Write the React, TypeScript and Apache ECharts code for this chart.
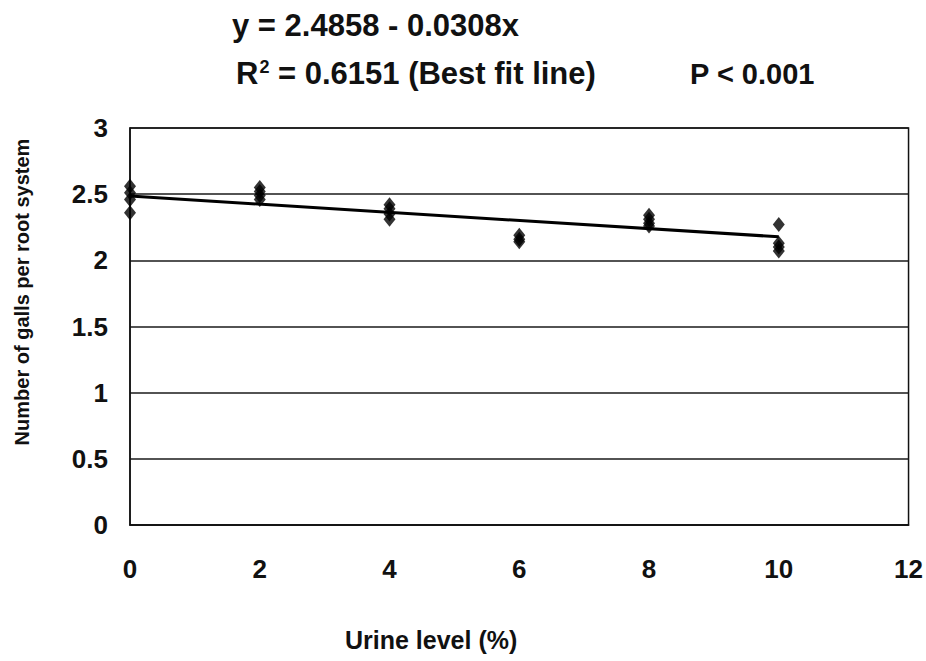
import React, { useEffect, useRef } from "react";
import * as echarts from "echarts";

const urineLevels = [0, 2, 4, 6, 8, 10];
const gallsAt0 = [2.56, 2.51, 2.46, 2.36];
const gallsAt2 = [2.55, 2.52, 2.49, 2.46];
const gallsAt4 = [2.42, 2.39, 2.35, 2.31];
const gallsAt6 = [2.19, 2.16, 2.14];
const gallsAt8 = [2.34, 2.31, 2.28, 2.26];
const gallsAt10 = [2.27, 2.13, 2.1, 2.07];
const fitLineX = [0, 10];
const fitLineY = [2.4858, 2.1778];
const yTicks = ["0", "0.5", "1", "1.5", "2", "2.5", "3"];

const FONT = "'Liberation Sans', Arial, sans-serif";

export default function App() {
  const ref = useRef<HTMLDivElement>(null);
  useEffect(() => {
    document.body.style.margin = "0";
    document.body.style.overflow = "hidden";
    if (!ref.current) return;
    const chart = echarts.init(ref.current, null, { renderer: "svg" });
    const groups = [gallsAt0, gallsAt2, gallsAt4, gallsAt6, gallsAt8, gallsAt10];
    const scatterData: number[][] = [];
    groups.forEach((g, i) => g.forEach((v) => scatterData.push([urineLevels[i], v])));
    chart.setOption({
      animation: false,
      backgroundColor: "#ffffff",
      textStyle: { fontFamily: FONT },
      grid: {
        left: 130,
        right: 16,
        top: 128,
        bottom: 136,
        show: true,
        borderColor: "#111",
        borderWidth: 1.5,
      },
      xAxis: {
        type: "value",
        min: 0,
        max: 12,
        interval: 2,
        axisLine: { show: true, onZero: false, lineStyle: { color: "#111", width: 1.5 } },
        axisTick: { show: false },
        splitLine: { show: false },
        axisLabel: {
          fontSize: 26,
          fontWeight: "bold",
          color: "#111",
          margin: 31,
          fontFamily: FONT,
        },
      },
      yAxis: {
        type: "value",
        min: 0,
        max: 3,
        interval: 0.5,
        axisLine: { show: true, lineStyle: { color: "#111", width: 1.5 } },
        axisTick: { show: false },
        splitLine: { show: true, lineStyle: { color: "#1a1a1a", width: 1.6 } },
        axisLabel: {
          fontSize: 26,
          fontWeight: "bold",
          color: "#111",
          margin: 22,
          fontFamily: FONT,
          formatter: (v: number) => yTicks[Math.round(v * 2)] ?? String(v),
        },
      },
      series: [
        {
          type: "line",
          data: fitLineX.map((x, i) => [x, fitLineY[i]]),
          symbol: "none",
          lineStyle: { color: "#000", width: 3 },
          z: 2,
        },
        {
          type: "scatter",
          data: scatterData,
          symbol: "diamond",
          symbolSize: [12, 15],
          itemStyle: { color: "#000" },
          z: 3,
        },
      ],
      graphic: [
        {
          type: "text",
          x: 232,
          y: 10,
          style: {
            text: "y = 2.4858 - 0.0308x",
            font: `bold 31px ${FONT}`,
            fill: "#111",
          },
        },
        {
          type: "text",
          x: 236,
          y: 58,
          style: {
            text: "{r|R}{s|2}{r| = 0.6151 (Best fit line)}",
            rich: {
              r: { font: `bold 31px ${FONT}`, fill: "#111", verticalAlign: "bottom" },
              s: { font: `bold 18px ${FONT}`, fill: "#111", verticalAlign: "top", padding: [0, 0, 0, 1] },
            },
          },
        },
        {
          type: "text",
          x: 690,
          y: 59,
          style: {
            text: "P < 0.001",
            font: `bold 29px ${FONT}`,
            fill: "#111",
          },
        },
        {
          type: "text",
          x: 345,
          y: 627,
          style: {
            text: "Urine level (%)",
            font: `bold 25px ${FONT}`,
            fill: "#111",
          },
        },
        {
          type: "text",
          x: 22,
          y: 292,
          rotation: Math.PI / 2,
          style: {
            text: "Number of galls per root system",
            font: `bold 20px ${FONT}`,
            fill: "#111",
            align: "center",
            verticalAlign: "middle",
          },
        },
      ],
    });
    return () => chart.dispose();
  }, []);
  return <div ref={ref} style={{ width: 926, height: 661 }} />;
}
